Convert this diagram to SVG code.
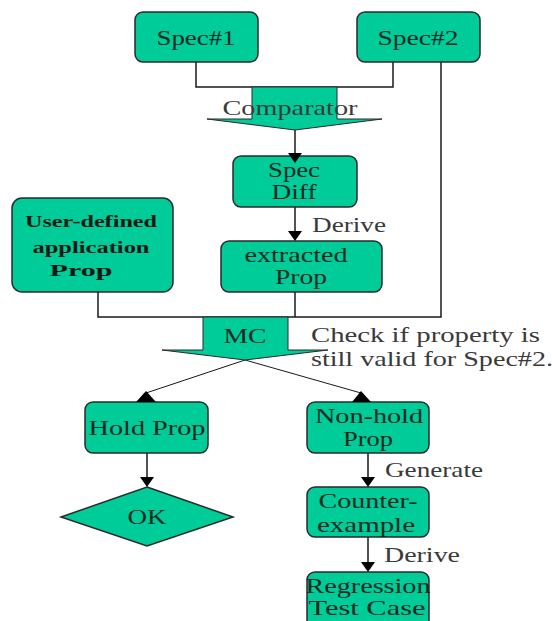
<svg xmlns="http://www.w3.org/2000/svg" width="556" height="621" viewBox="0 0 556 621">
<defs>
<style>
.box{fill:#00CC99;stroke:#2a2a2a;stroke-width:1.5}
.blk{fill:#00CC99;stroke:#2a2a2a;stroke-width:1}
.t{font-family:"Liberation Serif","Times New Roman",serif;font-size:21px;fill:#0d2a22}
.tb{font-family:"Liberation Serif","Times New Roman",serif;font-size:17px;font-weight:bold;fill:#0d1a14}
.o{font-family:"Liberation Serif","Times New Roman",serif;font-size:21px;fill:#3a3a3a}
.ln{fill:none;stroke:#1a1a1a;stroke-width:1.5}
.dl{fill:none;stroke:#1a1a1a;stroke-width:1}
.ah{fill:#000}
</style>
</defs>
<rect width="556" height="621" fill="#fff"/>
<g id="connectors">
<polyline class="ln" points="196,62 196,87 393,87 393,62"/>
<polyline class="ln" points="98,292 98,317 441,317 441,62"/>
<line class="ln" x1="295" y1="292" x2="295" y2="317"/>
<line class="ln" x1="295" y1="130" x2="295" y2="156"/>
<line class="ln" x1="295" y1="207" x2="295" y2="232"/>
<line class="dl" x1="245" y1="360" x2="146" y2="393"/>
<line class="dl" x1="245" y1="360" x2="361" y2="393"/>
<line class="ln" x1="147" y1="453" x2="147" y2="478"/>
<line class="ln" x1="368" y1="453" x2="368" y2="478"/>
<line class="ln" x1="368" y1="537" x2="368" y2="563"/>
</g>
<g id="spec1"><rect class="box" x="135" y="12" width="123" height="50" rx="8"/><text class="t" x="196" y="45" text-anchor="middle" textLength="79" lengthAdjust="spacingAndGlyphs">Spec#1</text></g>
<g id="spec2"><rect class="box" x="357" y="12" width="123" height="50" rx="8"/><text class="t" x="418" y="45" text-anchor="middle" textLength="81" lengthAdjust="spacingAndGlyphs">Spec#2</text></g>
<g id="comparator"><polygon class="blk" points="252,87 337,87 337,119 382,119 295,130 207,119 252,119"/><text class="o" x="290" y="115" text-anchor="middle" textLength="135" lengthAdjust="spacingAndGlyphs">Comparator</text></g>
<g id="specdiff"><rect class="box" x="233" y="156" width="124" height="51" rx="8"/><text class="t" x="294" y="177" text-anchor="middle" textLength="52" lengthAdjust="spacingAndGlyphs">Spec</text><text class="t" x="294" y="199" text-anchor="middle" textLength="45" lengthAdjust="spacingAndGlyphs">Diff</text></g>
<g id="userprop"><rect class="box" x="12" y="198" width="161" height="94" rx="10"/><text class="tb" x="91" y="227" text-anchor="middle" textLength="132" lengthAdjust="spacingAndGlyphs">User-defined</text><text class="tb" x="91" y="253" text-anchor="middle" textLength="117" lengthAdjust="spacingAndGlyphs">application</text><text class="tb" x="81" y="276" text-anchor="middle" textLength="63" lengthAdjust="spacingAndGlyphs">Prop</text></g>
<g id="extracted"><rect class="box" x="221" y="241" width="161" height="51" rx="8"/><text class="t" x="296" y="262" text-anchor="middle" textLength="103" lengthAdjust="spacingAndGlyphs">extracted</text><text class="t" x="301" y="284" text-anchor="middle" textLength="52" lengthAdjust="spacingAndGlyphs">Prop</text></g>
<g id="mc"><polygon class="blk" points="203,317 288,317 288,350 328,350 245,360 162,350 203,350"/><text class="t" x="245" y="343" text-anchor="middle" textLength="43" lengthAdjust="spacingAndGlyphs">MC</text></g>
<g id="holdprop"><rect class="box" x="85" y="402" width="123" height="51" rx="8"/><text class="t" x="147" y="435" text-anchor="middle" textLength="117" lengthAdjust="spacingAndGlyphs">Hold Prop</text></g>
<g id="ok"><polygon class="box" points="147,487 233,517 147,546 61,517"/><text class="t" x="147" y="524" text-anchor="middle" textLength="39" lengthAdjust="spacingAndGlyphs">OK</text></g>
<g id="nonhold"><rect class="box" x="307" y="402" width="122" height="51" rx="8"/><text class="t" x="369" y="423" text-anchor="middle" textLength="108" lengthAdjust="spacingAndGlyphs">Non-hold</text><text class="t" x="368" y="446" text-anchor="middle" textLength="50" lengthAdjust="spacingAndGlyphs">Prop</text></g>
<g id="counterexample"><rect class="box" x="307" y="487" width="122" height="50" rx="8"/><text class="t" x="368" y="508" text-anchor="middle" textLength="99" lengthAdjust="spacingAndGlyphs">Counter-</text><text class="t" x="366" y="532" text-anchor="middle" textLength="98" lengthAdjust="spacingAndGlyphs">example</text></g>
<g id="regression"><rect class="box" x="307" y="572" width="122" height="60" rx="8"/><text class="t" x="368" y="593" text-anchor="middle" textLength="125" lengthAdjust="spacingAndGlyphs">Regression</text><text class="t" x="367" y="615" text-anchor="middle" textLength="117" lengthAdjust="spacingAndGlyphs">Test Case</text></g>
<g id="arrowheads">
<polygon class="ah" points="288,153 302,153 295,163"/>
<polygon class="ah" points="288,231 302,231 295,241"/>
<polygon class="ah" points="136,402 156,402 146,391"/>
<polygon class="ah" points="352,402 371,402 361,391"/>
<polygon class="ah" points="140,477 154,477 147,487"/>
<polygon class="ah" points="361,477 375,477 368,487"/>
<polygon class="ah" points="361,562 375,562 368,572"/>
</g>
<g id="labels">
<text class="o" x="312" y="232" textLength="74" lengthAdjust="spacingAndGlyphs">Derive</text>
<text class="o" x="311" y="342" textLength="229" lengthAdjust="spacingAndGlyphs">Check if property is</text>
<text class="o" x="311" y="366" textLength="242" lengthAdjust="spacingAndGlyphs">still valid for Spec#2.</text>
<text class="o" x="385" y="477" textLength="98" lengthAdjust="spacingAndGlyphs">Generate</text>
<text class="o" x="384" y="562" textLength="76" lengthAdjust="spacingAndGlyphs">Derive</text>
</g>
</svg>
